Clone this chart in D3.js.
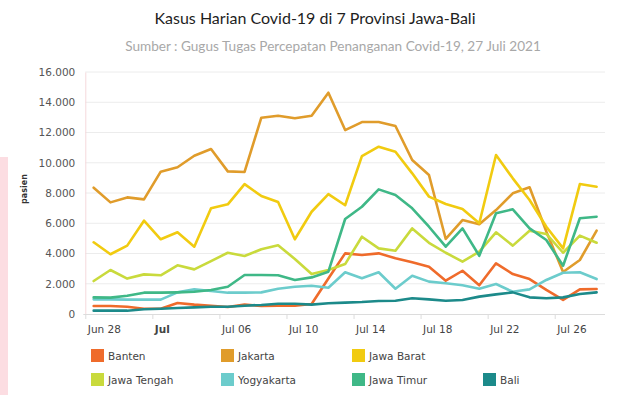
<!DOCTYPE html>
<html><head><meta charset="utf-8">
<script src="https://cdn.jsdelivr.net/npm/d3@7/dist/d3.min.js"></script>
<style>
html,body{margin:0;padding:0;background:#fff;}
svg{display:block;}
</style></head>
<body>
<svg id="chart" width="630" height="395"></svg>
<script>
const title = "Kasus Harian Covid-19 di 7 Provinsi Jawa-Bali";
const subtitle = "Sumber : Gugus Tugas Percepatan Penanganan Covid-19, 27 Juli 2021";
const yAxisTitle = "pasien";
const startDate = "2021-06-28";
const seriesNames = ["Banten","Jakarta","Jawa Barat","Jawa Tengah","Yogyakarta","Jawa Timur","Bali"];
const seriesColors = ["#ef6b2b","#e09c2b","#f1cb10","#c9da3c","#6ccccc","#3fb887","#1c8a8a"];
const banten = [530,530,480,350,350,730,620,550,460,620,530,550,550,660,2350,4010,3900,4010,3680,3420,3130,2200,2860,1900,3350,2640,2310,1590,930,1630,1650];
const jakarta = [8350,7380,7710,7580,9410,9700,10460,10910,9430,9390,12980,13110,12940,13110,14630,12160,12690,12690,12430,10180,9190,4960,6210,5930,6870,7980,8380,5450,2780,3570,5510];
const jawaBarat = [4740,3950,4520,6170,4940,5400,4450,6990,7250,8590,7800,7400,4940,6760,7930,7190,10440,11060,10730,9300,7760,7270,6940,6000,10510,8970,7540,5770,4340,8590,8410];
const jawaTengah = [2180,2910,2340,2620,2560,3220,2950,3500,4050,3830,4280,4540,3640,2640,2910,3300,5110,4340,4180,5660,4710,4050,3460,4120,5400,4520,5510,5290,4050,5180,4710];
const yogyakarta = [970,970,950,950,950,1430,1630,1520,1410,1410,1430,1670,1800,1870,1740,2760,2360,2760,1670,2530,2140,2030,1900,1670,1980,1470,1630,2250,2730,2760,2310];
const jawaTimur = [1100,1080,1210,1410,1410,1430,1470,1590,1800,2580,2580,2560,2250,2420,2800,6280,7090,8240,7870,6990,5770,4450,5660,3850,6660,6920,5660,4890,3190,6330,6430];
const bali = [220,220,220,310,350,400,440,480,480,550,600,680,680,620,710,750,790,860,880,1040,970,880,930,1150,1300,1430,1100,1040,1100,1320,1430];
const yTicks = [0,2000,4000,6000,8000,10000,12000,14000,16000];
const xTickDates = ["2021-06-28","2021-07-02","2021-07-06","2021-07-10","2021-07-14","2021-07-18","2021-07-22","2021-07-26"];
const xTickLabels = ["Jun 28","Jul","Jul 06","Jul 10","Jul 14","Jul 18","Jul 22","Jul 26"];

const seriesValues = [banten,jakarta,jawaBarat,jawaTengah,yogyakarta,jawaTimur,bali];
const parse = d3.utcParse("%Y-%m-%d");
const t0 = parse(startDate);
const DAY = 864e5;

const svg = d3.select("#chart");
const W = 630, H = 395;
const m = {left:85.3, right:605, top:72, bottom:314};

// pink strip on left
svg.append("rect").attr("x",0).attr("y",157).attr("width",8).attr("height",H-157).attr("fill","#fcdde2");

svg.append("text").attr("x",315).attr("y",24).attr("text-anchor","middle")
  .attr("font-family","Lato, sans-serif").attr("font-size",16).attr("fill","#1e1e1e").text(title);
svg.append("text").attr("x",333).attr("y",51).attr("text-anchor","middle")
  .attr("font-family","Lato, sans-serif").attr("font-size",13.6).attr("fill","#a8a8a8").text(subtitle);

const x = d3.scaleUtc().domain([t0, new Date(+t0 + 31*DAY)]).range([m.left, m.right]);
const y = d3.scaleLinear().domain([0,16000]).range([m.bottom, m.top]);

// gridlines
svg.append("g").selectAll("line").data(yTicks.filter(v=>v>0)).join("line")
  .attr("x1",m.left).attr("x2",m.right).attr("y1",d=>y(d)).attr("y2",d=>y(d))
  .attr("stroke","#ececec").attr("stroke-width",1);

// y axis
const yAxis = d3.axisLeft(y).tickValues(yTicks).tickSize(0).tickPadding(10)
  .tickFormat(d=>d3.format(",")(d).replace(/,/g,"."));
const gy = svg.append("g").attr("transform",`translate(${m.left},0)`).call(yAxis);
gy.select(".domain").attr("stroke","#f6d9dc").attr("stroke-width",1);
gy.selectAll("text").attr("font-family","'DejaVu Sans', Verdana, sans-serif").attr("font-size",10.5).attr("fill","#555");

svg.append("text").attr("transform",`translate(27,189) rotate(-90)`).attr("text-anchor","middle")
  .attr("font-family","'DejaVu Sans', sans-serif").attr("font-size",8).attr("font-weight","bold").attr("fill","#333").text(yAxisTitle);

// x axis
const tickDates = xTickDates.map(parse);
const xAxis = d3.axisBottom(x).tickValues(tickDates).tickSize(5).tickFormat((d,i)=>xTickLabels[i]);
const gx = svg.append("g").attr("transform",`translate(0,${m.bottom})`).call(xAxis);
gx.select(".domain").attr("stroke","#dcdcdc").attr("d",`M${m.left-2},0.5H${m.right}`);
gx.selectAll(".tick line").attr("stroke","#dcdcdc");
gx.selectAll("text").attr("text-anchor","start").attr("x",2).attr("dy","1.05em")
  .attr("font-family","'DejaVu Sans', Verdana, sans-serif").attr("font-size",10.5).attr("fill","#444")
  .attr("font-weight",(d,i)=>i===1?"bold":"normal");

// lines
const line = d3.line().x((d,i)=>x(new Date(+t0 + (i+0.5)*DAY))).y(d=>y(d));
svg.append("g").selectAll("path").data(seriesValues).join("path")
  .attr("d",d=>line(d)).attr("fill","none")
  .attr("stroke",(d,i)=>seriesColors[i]).attr("stroke-width",2.6)
  .attr("stroke-linejoin","round").attr("stroke-linecap","round");

// legend
const legX = [91,221,352,91,221,352,483];
const legY = [349,349,349,373,373,373,373];
const lg = svg.append("g").selectAll("g").data(seriesNames).join("g")
  .attr("transform",(d,i)=>`translate(${legX[i]},${legY[i]})`);
lg.append("rect").attr("width",13).attr("height",13).attr("fill",(d,i)=>seriesColors[i]);
lg.append("text").attr("x",17).attr("y",10.5).attr("font-family","'DejaVu Sans', Verdana, sans-serif")
  .attr("font-size",10.5).attr("fill","#444").text(d=>d);
</script>
</body></html>
